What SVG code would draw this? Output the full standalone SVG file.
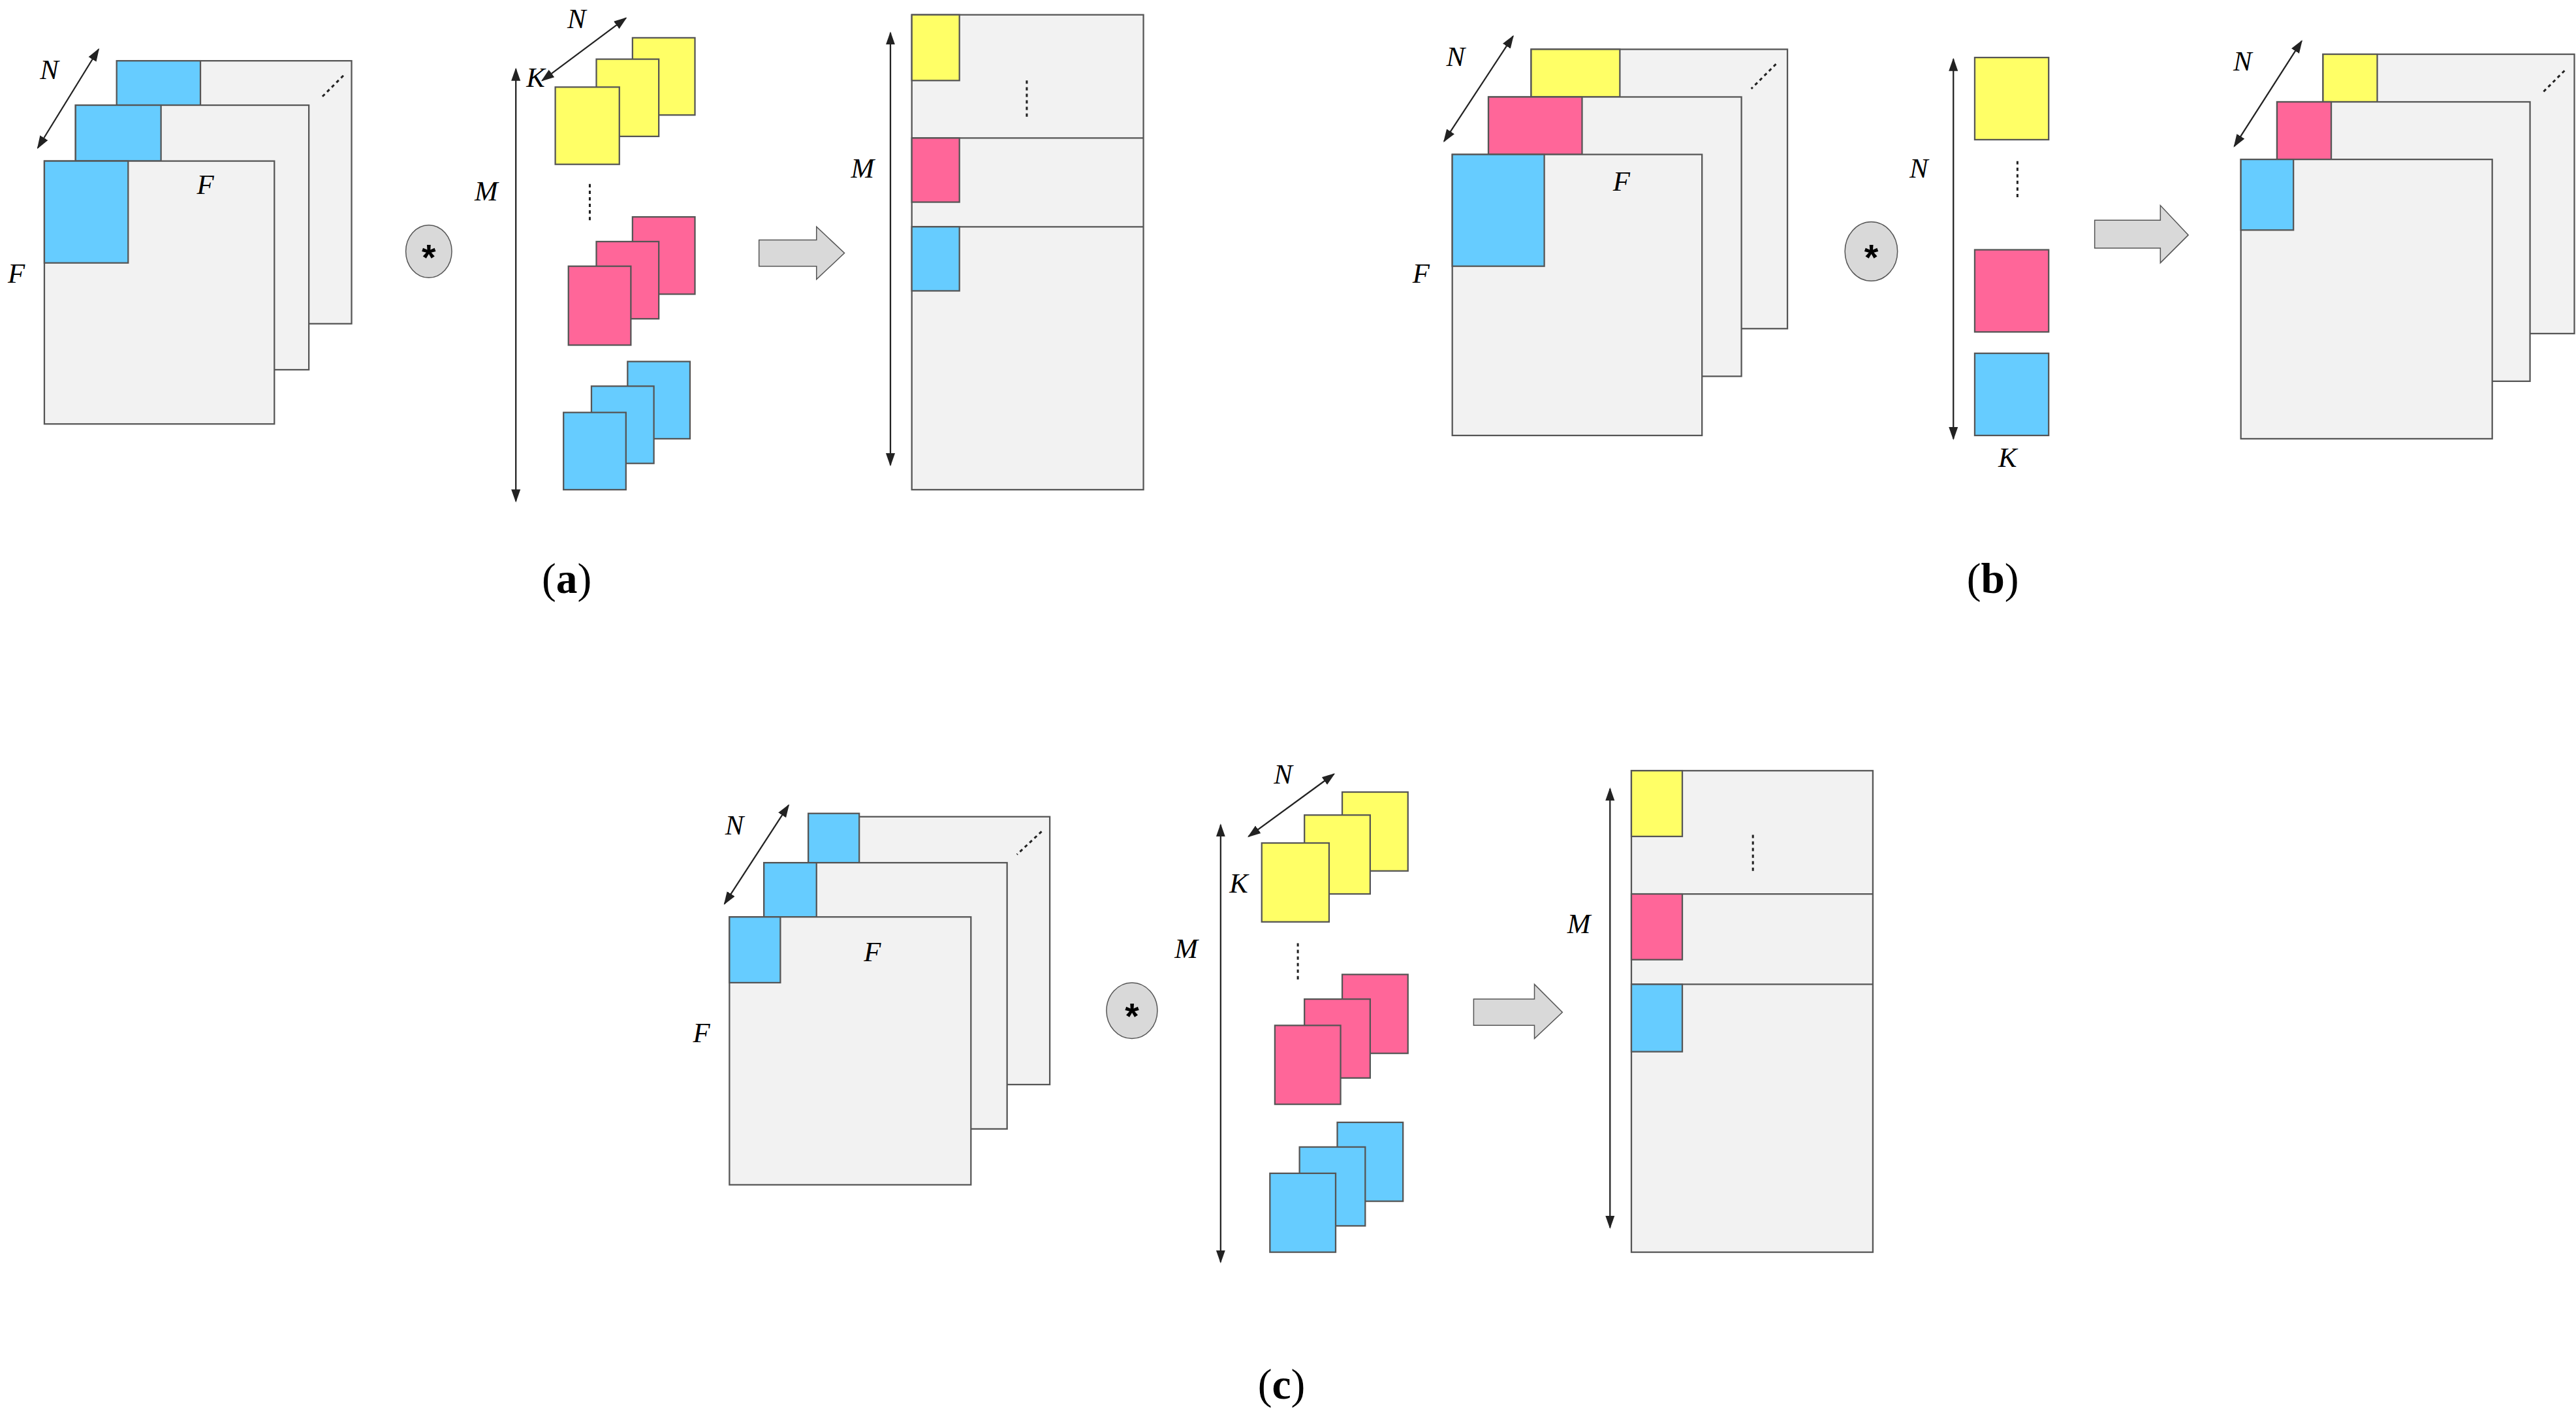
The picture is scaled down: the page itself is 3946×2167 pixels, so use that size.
<svg xmlns="http://www.w3.org/2000/svg" width="3946" height="2167" viewBox="0 0 3946 2167">
<defs>
<marker id="ah" viewBox="0 0 10 10" refX="9" refY="5" markerWidth="8" markerHeight="8" markerUnits="userSpaceOnUse" orient="auto-start-reverse"><path d="M0,1.5 L10,5 L0,8.5 z" fill="#222"/></marker>
<style>
.s{fill:#f2f2f2;stroke:#555;stroke-width:0.9}
.y{fill:#ffff66;stroke:#555;stroke-width:0.9}
.p{fill:#ff6699;stroke:#555;stroke-width:0.9}
.b{fill:#66ccff;stroke:#555;stroke-width:0.9}
.ar{stroke:#222;stroke-width:0.9;fill:none;marker-start:url(#ah);marker-end:url(#ah)}
.d{stroke:#222;stroke-width:1.2;stroke-dasharray:2,2;fill:none}
.big{fill:#d9d9d9;stroke:#555;stroke-width:0.6}
.el{fill:#d9d9d9;stroke:#555;stroke-width:0.6}
.l{font-family:'Liberation Serif',serif;font-style:italic;font-size:17px;text-anchor:middle}
.st{font-family:'Liberation Sans',sans-serif;font-weight:bold;font-size:22px;text-anchor:middle}
.cap{font-family:'Liberation Serif',serif;font-size:26px;text-anchor:middle}
</style>
</defs>
<rect width="3946" height="2167" fill="#fff"/>
<g transform="scale(2.5166)">
<!-- panel a -->
<g id="a-input">
<rect class="s" x="72" y="37" width="142" height="160"/><rect class="b" x="71" y="37" width="51" height="27"/>
<rect class="s" x="46" y="64" width="142" height="161"/><rect class="b" x="46" y="64" width="52" height="34"/>
<rect class="s" x="27" y="98" width="140" height="160"/><rect class="b" x="27" y="98" width="51" height="62"/>
<path class="d" d="M209,46 L195,60"/>
<text class="l" x="30" y="48">N</text><text class="l" x="125" y="118">F</text><text class="l" x="10" y="172">F</text>
</g>
<g id="a-op"><ellipse class="el" cx="261" cy="153" rx="14" ry="16"/><text class="st" x="261" y="164">*</text></g>
<g id="a-kernels">
<rect class="y" x="385" y="23" width="38" height="47"/><rect class="y" x="363" y="36" width="38" height="47"/><rect class="y" x="338" y="53" width="39" height="47"/>
<path class="d" d="M359,112 V135"/>
<rect class="p" x="385" y="132" width="38" height="47"/><rect class="p" x="363" y="147" width="38" height="47"/><rect class="p" x="346" y="162" width="38" height="48"/>
<rect class="b" x="382" y="220" width="38" height="47"/><rect class="b" x="360" y="235" width="38" height="47"/><rect class="b" x="343" y="251" width="38" height="47"/>
<text class="l" x="296" y="122">M</text><text class="l" x="351" y="17">N</text><text class="l" x="326" y="53">K</text>
</g>
<g id="a-bigarrow"><path class="big" d="M462,146 H497 V138 L514,154 L497,170 V162 H462 z"/></g>
<g id="a-output">
<rect class="s" x="555" y="9" width="141" height="289"/><path stroke="#555" stroke-width="0.9" d="M555,84 H696 M555,138 H696"/>
<rect class="y" x="555" y="9" width="29" height="40"/><rect class="p" x="555" y="84" width="29" height="39"/><rect class="b" x="555" y="138" width="29" height="39"/>
<path class="d" d="M625,49 V71"/>
<text class="l" x="525" y="108">M</text>
</g>
<!-- panel b -->
<g id="b-input">
<rect class="s" x="932" y="30" width="156" height="170"/><rect class="y" x="932" y="30" width="54" height="29"/>
<rect class="s" x="906" y="59" width="154" height="170"/><rect class="p" x="906" y="59" width="57" height="35"/>
<rect class="s" x="884" y="94" width="152" height="171"/><rect class="b" x="884" y="94" width="56" height="68"/>
<path class="d" d="M1081,39 L1066,54"/>
<text class="l" x="886" y="40">N</text><text class="l" x="987" y="116">F</text><text class="l" x="865" y="172">F</text>
</g>
<g id="b-op"><ellipse class="el" cx="1139" cy="153" rx="16" ry="18"/><text class="st" x="1139" y="164">*</text></g>
<g id="b-kernels">
<rect class="y" x="1202" y="35" width="45" height="50"/><path class="d" d="M1228,98 V121"/>
<rect class="p" x="1202" y="152" width="45" height="50"/><rect class="b" x="1202" y="215" width="45" height="50"/>
<text class="l" x="1168" y="108">N</text><text class="l" x="1222" y="284">K</text>
</g>
<g id="b-bigarrow"><path class="big" d="M1275,134 H1315 V125 L1332,143 L1315,160 V151 H1275 z"/></g>
<g id="b-output">
<rect class="s" x="1414" y="33" width="153" height="170"/><rect class="y" x="1414" y="33" width="33" height="29"/>
<rect class="s" x="1386" y="62" width="154" height="170"/><rect class="p" x="1386" y="62" width="33" height="35"/>
<rect class="s" x="1364" y="97" width="153" height="170"/><rect class="b" x="1364" y="97" width="32" height="43"/>
<path class="d" d="M1561,43 L1547,57"/>
<text class="l" x="1365" y="43">N</text>
</g>
<!-- panel c -->
<g id="c-input">
<rect class="s" x="492" y="497" width="147" height="163"/><rect class="b" x="492" y="495" width="31" height="30"/>
<rect class="s" x="465" y="525" width="148" height="162"/><rect class="b" x="465" y="525" width="32" height="33"/>
<rect class="s" x="444" y="558" width="147" height="163"/><rect class="b" x="444" y="558" width="31" height="40"/>
<path class="d" d="M634,506 L619,520"/>
<text class="l" x="447" y="508">N</text><text class="l" x="531" y="585">F</text><text class="l" x="427" y="634">F</text>
</g>
<g id="c-op"><ellipse class="el" cx="689" cy="615" rx="15.5" ry="17"/><text class="st" x="689" y="626">*</text></g>
<g id="c-kernels">
<rect class="y" x="817" y="482" width="40" height="48"/><rect class="y" x="794" y="496" width="40" height="48"/><rect class="y" x="768" y="513" width="41" height="48"/>
<path class="d" d="M790,574 V596"/>
<rect class="p" x="817" y="593" width="40" height="48"/><rect class="p" x="794" y="608" width="40" height="48"/><rect class="p" x="776" y="624" width="40" height="48"/>
<rect class="b" x="814" y="683" width="40" height="48"/><rect class="b" x="791" y="698" width="40" height="48"/><rect class="b" x="773" y="714" width="40" height="48"/>
<text class="l" x="722" y="583">M</text><text class="l" x="781" y="477">N</text><text class="l" x="754" y="543">K</text>
</g>
<g id="c-bigarrow"><path class="big" d="M897,608 H934 V599 L951,616 L934,632 V624 H897 z"/></g>
<g id="c-output">
<rect class="s" x="993" y="469" width="147" height="293"/><path stroke="#555" stroke-width="0.9" d="M993,544 H1140 M993,599 H1140"/>
<rect class="y" x="993" y="469" width="31" height="40"/><rect class="p" x="993" y="544" width="31" height="40"/><rect class="b" x="993" y="599" width="31" height="41"/>
<path class="d" d="M1067,508 V532"/>
<text class="l" x="961" y="568">M</text>
</g>
<g id="connectors">
<line class="ar" x1="60" y1="30" x2="23" y2="90"/>
<line class="ar" x1="314" y1="42" x2="314" y2="305"/>
<line class="ar" x1="381" y1="11" x2="330" y2="49"/>
<line class="ar" x1="542" y1="20" x2="542" y2="283"/>
<line class="ar" x1="921" y1="22" x2="879" y2="86"/>
<line class="ar" x1="1189" y1="36" x2="1189" y2="267"/>
<line class="ar" x1="1401" y1="25" x2="1360" y2="89"/>
<line class="ar" x1="480" y1="490" x2="441" y2="550"/>
<line class="ar" x1="743" y1="502" x2="743" y2="768"/>
<line class="ar" x1="812" y1="471" x2="760" y2="509"/>
<line class="ar" x1="980" y1="480" x2="980" y2="747"/>
</g>
<text class="cap" x="345" y="361">(<tspan font-weight="bold">a</tspan>)</text>
<text class="cap" x="1213" y="361">(<tspan font-weight="bold">b</tspan>)</text>
<text class="cap" x="780" y="851">(<tspan font-weight="bold">c</tspan>)</text>
</g>
</svg>
